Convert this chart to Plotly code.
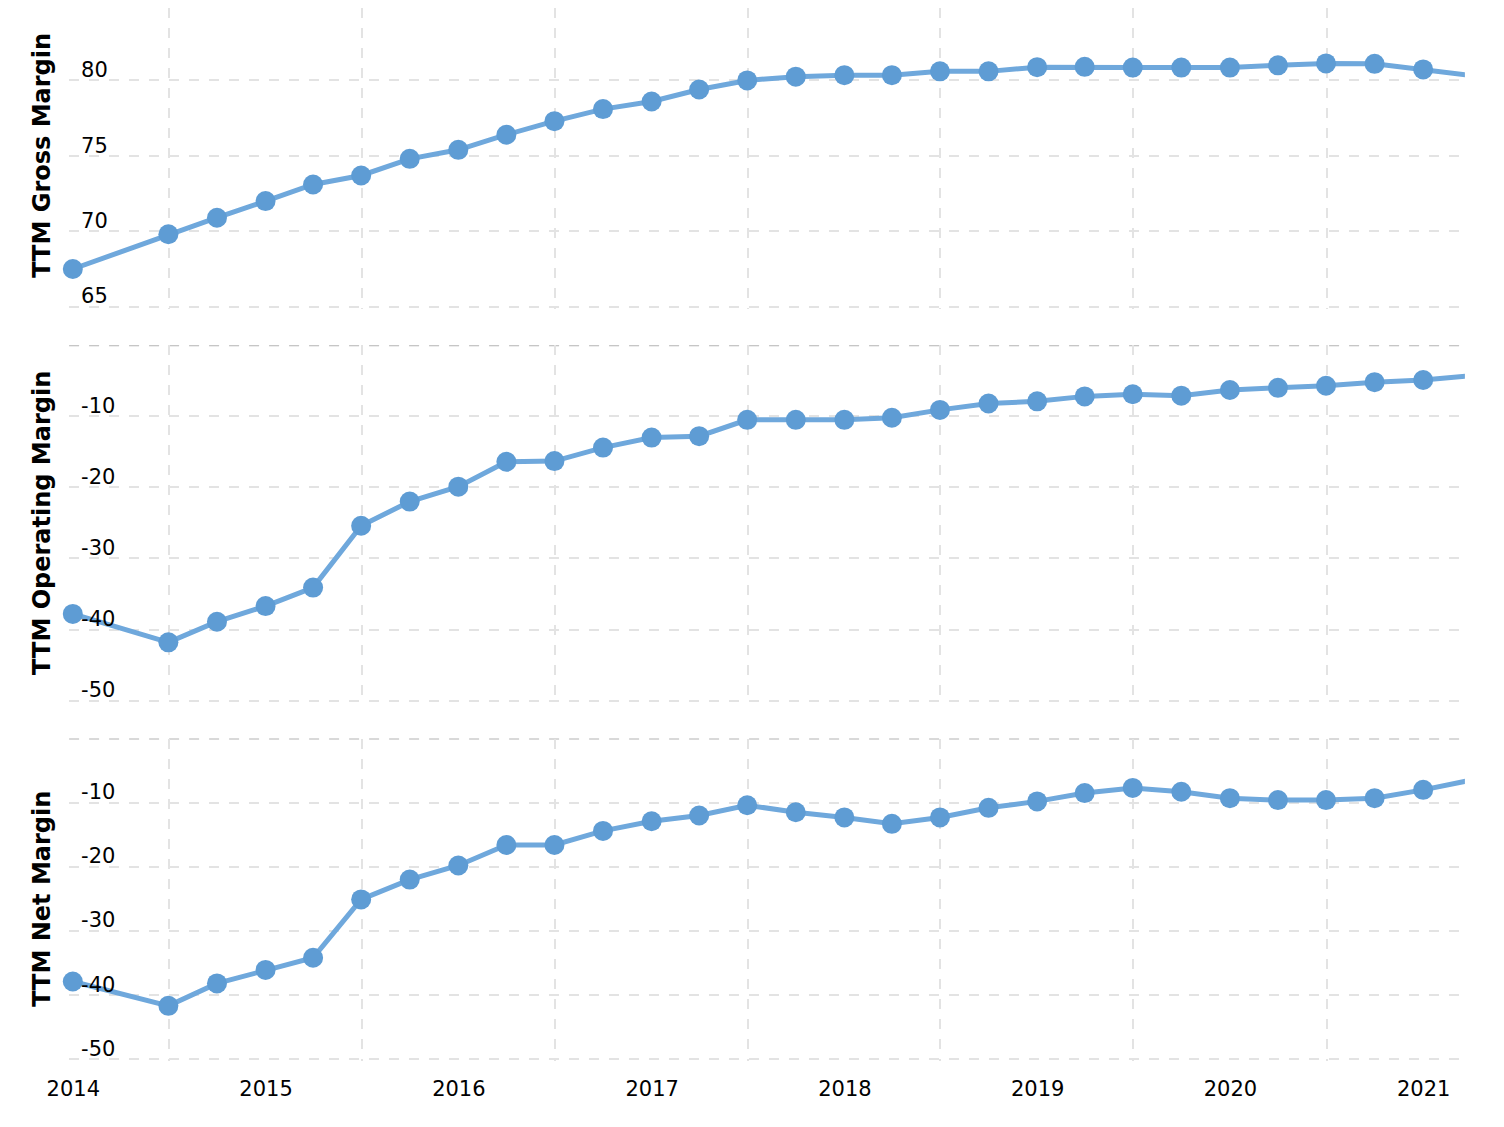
import plotly.graph_objects as go

# ---------------- data ----------------
dates = [
    "2013-12-31", "2014-06-30", "2014-09-30", "2014-12-31",
    "2015-03-31", "2015-06-30", "2015-09-30", "2015-12-31",
    "2016-03-31", "2016-06-30", "2016-09-30", "2016-12-31",
    "2017-03-31", "2017-06-30", "2017-09-30", "2017-12-31",
    "2018-03-31", "2018-06-30", "2018-09-30", "2018-12-31",
    "2019-03-31", "2019-06-30", "2019-09-30", "2019-12-31",
    "2020-03-31", "2020-06-30", "2020-09-30", "2020-12-31",
    "2021-03-31",
]

gross_margin = [
    67.5, 69.8, 70.9, 72.0,
    73.1, 73.7, 74.8, 75.4,
    76.4, 77.3, 78.1, 78.6,
    79.4, 80.0, 80.25, 80.35,
    80.35, 80.6, 80.6, 80.88,
    80.9, 80.85, 80.85, 80.85,
    81.0, 81.13, 81.1, 80.73,
    80.33,
]

operating_margin = [
    -37.8, -41.8, -38.9, -36.7,
    -34.1, -25.4, -22.0, -19.9,
    -16.4, -16.3, -14.4, -13.0,
    -12.8, -10.5, -10.5, -10.5,
    -10.2, -9.1, -8.2, -7.9,
    -7.2, -6.9, -7.1, -6.3,
    -6.0, -5.7, -5.2, -4.9,
    -4.3,
]

net_margin = [
    -37.9, -41.7, -38.2, -36.1,
    -34.2, -25.1, -22.0, -19.8,
    -16.6, -16.6, -14.4, -12.9,
    -12.0, -10.4, -11.5, -12.3,
    -13.3, -12.3, -10.8, -9.8,
    -8.5, -7.7, -8.3, -9.3,
    -9.6, -9.6, -9.3, -8.0,
    -6.5,
]

panel_titles = ["TTM Gross Margin", "TTM Operating Margin", "TTM Net Margin"]

year_ticks = ["2014-01-01", "2015-01-01", "2016-01-01", "2017-01-01",
              "2018-01-01", "2019-01-01", "2020-01-01", "2021-01-01"]
year_labels = ["2014", "2015", "2016", "2017", "2018", "2019", "2020", "2021"]
mid_year_grid = ["2014-07-01", "2015-07-01", "2016-07-01", "2017-07-01",
                 "2018-07-01", "2019-07-01", "2020-07-01"]

gross_ticks = [65, 70, 75, 80, 85]
gross_ticktext = ["65", "70", "75", "80", ""]
neg_ticks = [-50, -40, -30, -20, -10]
neg_ticktext = ["-50", "-40", "-30", "-20", "-10"]

# ---------------- styling ----------------
W, H = 1504, 1127
OFF = 8.0   # page body margin offset of the plot div
EXT = 2.0   # extra px below the lowest gridline so it is not clipped
FONT = "Verdana, DejaVu Sans, sans-serif"
LINE_COLOR = "#6FA8DC"
MARKER_COLOR = "#5E9CD4"
GRID_COLOR = "#E3E3E3"
ZERO_COLOR = "#B3B3B3"
DASH = "10px,10px"

X_RANGE = ["2013-12-24", "2021-03-20"]
x_dom = [(69.1 - OFF) / W, (1464.9 - OFF) / W]
# wider, label-only axis with identical scale (0.52813 px per day)
X_LABEL_RANGE = ["2013-09-01", "2021-03-20"]
x_label_dom = [0.9 / W, x_dom[1]]

panel_px = [(5.0, 306.7), (345.2, 700.6), (738.6, 1059.0)]
px_per_unit = [15.08, 7.108, 6.408]
y_doms = [
    [1 - (306.7 + EXT - OFF) / H, 1.0],
    [1 - (700.6 + EXT - OFF) / H, 1 - (345.2 - OFF) / H],
    [1 - (1059.0 + EXT - OFF) / H, 1 - (738.6 - OFF) / H],
]
y_ranges = [
    [65 - EXT / px_per_unit[0], 85 - (OFF - 5.0) / px_per_unit[0]],
    [-50 - EXT / px_per_unit[1], 0],
    [-50 - EXT / px_per_unit[2], 0],
]
y_tickvals = [gross_ticks, neg_ticks, neg_ticks]
y_ticktexts = [gross_ticktext, neg_ticktext, neg_ticktext]
series = [gross_margin, operating_margin, net_margin]

fig = go.Figure()

# empty trace that carries the year-label axis (drawn first, underneath)
fig.add_trace(go.Scatter(x=[], y=[], xaxis="x4", yaxis="y4",
                         showlegend=False, hoverinfo="skip"))

for i, vals in enumerate(series):
    suffix = "" if i == 0 else str(i + 1)
    fig.add_trace(go.Scatter(
        x=dates, y=vals,
        mode="lines+markers",
        line=dict(color=LINE_COLOR, width=5),
        marker=dict(color=MARKER_COLOR, size=20, line=dict(width=0)),
        cliponaxis=False,
        xaxis="x" + suffix, yaxis="y" + suffix,
        showlegend=False,
        name=panel_titles[i],
        hovertemplate="%{x|%b %d, %Y}: %{y:.2f}%<extra></extra>",
    ))

layout = dict(
    width=W, height=H,
    autosize=False,
    margin=dict(l=0, r=0, t=0, b=0, pad=0),
    paper_bgcolor="white", plot_bgcolor="rgba(0,0,0,0)",
    font=dict(family=FONT, size=21, color="#000000"),
    showlegend=False,
    annotations=[],
    shapes=[],
)

for i in range(3):
    suffix = "" if i == 0 else str(i + 1)
    xa = dict(
        domain=x_dom,
        type="date",
        range=X_RANGE,
        automargin=False,
        tickmode="array",
        tickvals=year_ticks,
        ticktext=year_labels,
        showgrid=False,
        zeroline=False,
        showline=False,
        ticks="",
        showticklabels=False,
        anchor="y" + suffix,
        minor=dict(
            tickmode="array",
            tickvals=mid_year_grid,
            showgrid=True,
            gridcolor=GRID_COLOR,
            gridwidth=2,
            griddash=DASH,
            ticks="",
        ),
    )
    if i > 0:
        xa["matches"] = "x"
    ya = dict(
        domain=y_doms[i],
        range=y_ranges[i],
        automargin=False,
        tickmode="array",
        tickvals=y_tickvals[i],
        ticktext=y_ticktexts[i],
        ticklabelposition="inside top",
        ticklabeloverflow="allow",
        ticks="",
        ticklabelstandoff=9,
        ticklabelshift=4,
        showgrid=True,
        gridcolor=GRID_COLOR,
        gridwidth=2,
        griddash=DASH,
        zeroline=False,
        showline=False,
        tickfont=dict(family=FONT, size=21, color="#000000"),
        anchor="x" + suffix,
    )
    layout["xaxis" + suffix] = xa
    layout["yaxis" + suffix] = ya

    top_px, bot_px = panel_px[i]
    layout["annotations"].append(dict(
        text="<b>%s</b>" % panel_titles[i],
        xref="paper", yref="paper",
        x=(42 - OFF) / W,
        y=1 - ((top_px + bot_px) / 2 - OFF) / H,
        xanchor="center", yanchor="middle",
        textangle=-90, showarrow=False,
        font=dict(family=FONT, size=24, color="#000000"),
    ))
    if i > 0:
        layout["shapes"].append(dict(
            type="line", xref="paper", yref="y" + suffix,
            x0=x_dom[0], x1=x_dom[1], y0=0, y1=0,
            line=dict(color=ZERO_COLOR, width=2, dash=DASH),
            layer="below",
        ))

# year labels along the bottom of the last panel
layout["xaxis4"] = dict(
    domain=x_label_dom,
    type="date",
    range=X_LABEL_RANGE,
    automargin=False,
    fixedrange=True,
    tickmode="array",
    tickvals=year_ticks,
    ticktext=year_labels,
    showgrid=False,
    zeroline=False,
    showline=False,
    ticks="outside",
    ticklen=9,
    tickcolor="rgba(0,0,0,0)",
    tickfont=dict(family=FONT, size=21, color="#000000"),
    anchor="y4",
)
layout["yaxis4"] = dict(
    domain=y_doms[2],
    range=[0, 1],
    visible=False,
    showgrid=False,
    zeroline=False,
    fixedrange=True,
    anchor="x4",
)

fig.update_layout(**layout)
fig.write_html("out.html")
